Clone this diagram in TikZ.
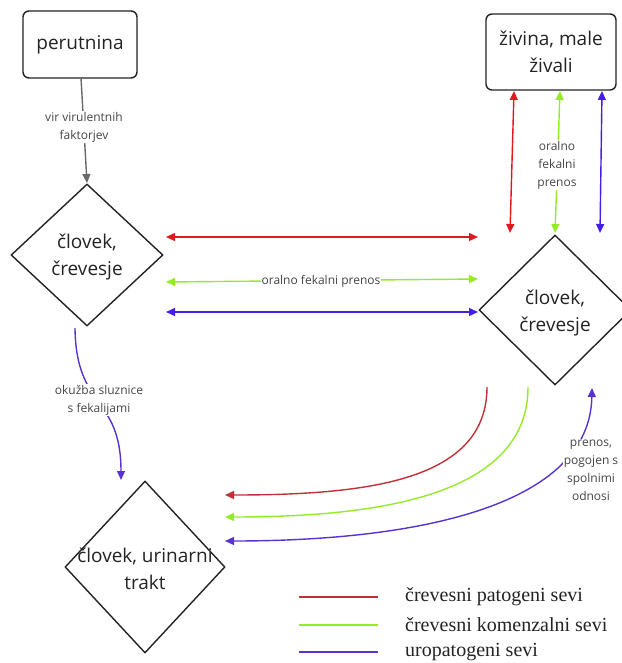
\documentclass[tikz,border=0pt]{standalone}
\usepackage{fontspec}
\setmainfont{Open Sans}
\newfontfamily\legendfont{Liberation Serif}
\usetikzlibrary{arrows.meta,shapes.geometric}
\definecolor{cred}{RGB}{225,25,30}
\definecolor{cdred}{RGB}{190,50,55}
\definecolor{cgreen}{RGB}{150,235,40}
\definecolor{cblue}{RGB}{70,30,235}
\definecolor{cdblue}{RGB}{90,50,210}
\definecolor{cgray}{RGB}{105,105,105}
\definecolor{ctext}{RGB}{35,35,35}
\definecolor{clab}{RGB}{70,70,70}
\begin{document}
\begin{tikzpicture}[x=1pt,y=-1pt,
 box/.style={draw=ctext, line width=1.4pt, rounded corners=6pt, inner sep=0pt},
 dia/.style={draw=ctext, line width=1.4pt, diamond, inner sep=0pt},
 maintxt/.style={text=ctext, font=\fontsize{19}{27}\selectfont, align=center},
 lab/.style={text=clab, font=\fontsize{12}{18}\selectfont, align=center, fill=white, inner sep=1pt},
 arr/.style={line width=1.4pt, -{Triangle[length=9pt,width=8pt]}},
 barr/.style={line width=1.4pt, {Triangle[length=9pt,width=8pt]}-{Triangle[length=9pt,width=8pt]}},
 legline/.style={line width=1.4pt},
 legtxt/.style={font=\legendfont\fontsize{20}{24}\selectfont, anchor=west, text=ctext, inner sep=0pt}]
\useasboundingbox (0,0) rectangle (621,663);

% boxes and diamonds
\node[box, minimum width=114pt, minimum height=67pt] (per) at (80,44.5) {};
\node[maintxt] (pert) at (80,44.5) {perutnina};
\node[box, minimum width=130pt, minimum height=76pt] (ziv) at (551,52) {};
\node[maintxt] (zivt) at (551,52) {živina, male\\živali};
\node[dia, minimum width=152pt, minimum height=142pt] (ld) at (87,255) {};
\node[maintxt] (ldt) at (87,257) {človek,\\črevesje};
\node[dia, minimum width=152pt, minimum height=150pt] (rd) at (555,310) {};
\node[maintxt] (rdt) at (555,313) {človek,\\črevesje};
\node[dia, minimum width=160pt, minimum height=172pt] (bd) at (145,567) {};
\node[maintxt] (bdt) at (145,569) {človek, urinarni\\trakt};

% endpoints
\coordinate (g1) at (81,78);
\coordinate (g2) at (87,183);
\coordinate (vr1) at (514,91);
\coordinate (vr2) at (510,233);
\coordinate (vg1) at (560,91);
\coordinate (vg2) at (555,233);
\coordinate (vb1) at (602,91);
\coordinate (vb2) at (600,233);
\coordinate (hr1) at (166,237);
\coordinate (hr2) at (478,237);
\coordinate (hg1) at (166,282);
\coordinate (hg2) at (478,279);
\coordinate (hb1) at (166,312);
\coordinate (hb2) at (478,312);
\coordinate (lb1) at (75,328);
\coordinate (lb2) at (121,480);
\coordinate (cr1) at (487,387);
\coordinate (cr2) at (225,495);
\coordinate (cg1) at (528,387);
\coordinate (cg2) at (225,517);
\coordinate (cb1) at (592,388);
\coordinate (cb2) at (225,541);

% connectors
\draw[arr, cgray] (g1) -- (g2);
\draw[barr, cred] (vr1) -- (vr2);
\draw[barr, cgreen] (vg1) -- (vg2);
\draw[barr, cblue] (vb1) -- (vb2);
\draw[barr, cred] (hr1) -- (hr2);
\draw[barr, cgreen] (hg1) -- (hg2);
\draw[barr, cblue] (hb1) -- (hb2);
\draw[arr, cdblue] (lb1) .. controls (76,410) and (121,395) .. (lb2);
\draw[arr, cdred] (cr1) .. controls (487,480) and (370,495) .. (cr2);
\draw[arr, cgreen] (cg1) .. controls (528,495) and (380,517) .. (cg2);
\draw[barr, cdblue] (cb1) .. controls (590,505) and (420,541) .. (cb2);

% labels
\node[lab] (l1) at (84,127.5) {vir virulentnih\\faktorjev};
\node[lab] (l2) at (557,165) {oralno\\fekalni\\prenos};
\node[lab] (l3) at (321,281) {oralno fekalni prenos};
\node[lab] (l4) at (99,400) {okužba sluznice\\s fekalijami};
\node[lab] (l5) at (591,470) {prenos,\\pogojen s\\spolnimi\\odnosi};

% legend
\coordinate (k1a) at (299,597); \coordinate (k1b) at (378,597);
\coordinate (k2a) at (299,625); \coordinate (k2b) at (378,625);
\coordinate (k3a) at (299,652); \coordinate (k3b) at (378,652);
\draw[legline, cdred] (k1a) -- (k1b);
\draw[legline, cgreen] (k2a) -- (k2b);
\draw[legline, cdblue] (k3a) -- (k3b);
\node[legtxt] (t1) at (405,597) {črevesni patogeni sevi};
\node[legtxt] (t2) at (405,625) {črevesni komenzalni sevi};
\node[legtxt] (t3) at (405,652) {uropatogeni sevi};
\end{tikzpicture}
\end{document}
